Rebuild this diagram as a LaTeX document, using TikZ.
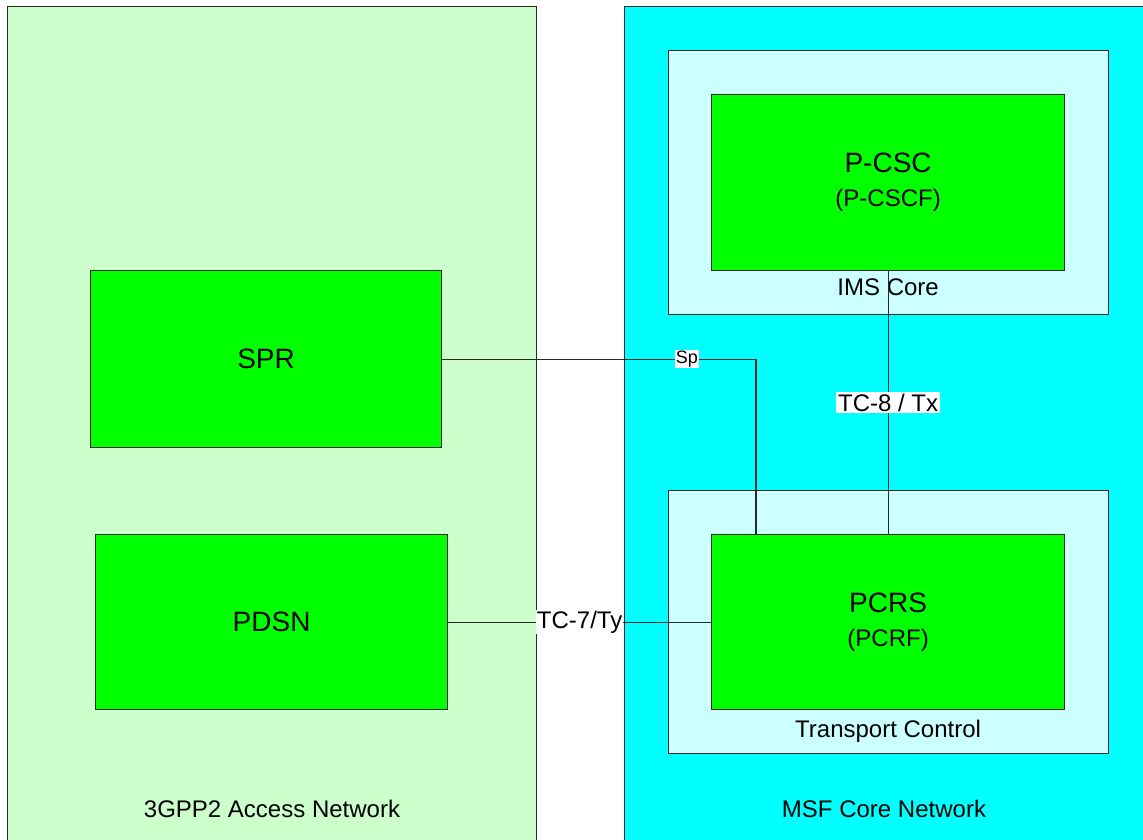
\documentclass[tikz,border=0pt]{standalone}
\usepackage{fontspec}
\setmainfont{Liberation Sans}
\usetikzlibrary{positioning}
\definecolor{accessgreen}{RGB}{204, 255, 204}
\definecolor{corecyan}{RGB}{0, 255, 255}
\definecolor{palecyan}{RGB}{204, 255, 255}
\definecolor{fngreen}{RGB}{0, 255, 0}
\definecolor{linegray}{RGB}{40, 40, 40}

\begin{document}
\begin{tikzpicture}[x = 0.5pt, y = -0.5pt, line width = 0.6pt,
region/.style = {draw = linegray, inner sep = 0pt, anchor = north west, minimum height = 419.5pt},
holder/.style = {draw = linegray, fill = palecyan, inner sep = 0pt, anchor = north west, minimum width = 220pt},
fnbox/.style = {draw = linegray, fill = fngreen, inner sep = 0pt, anchor = north west, align = center, font = \fontsize{14pt}{16pt}\selectfont},
caption/.style = {inner sep = 0pt, font = \fontsize{12pt}{14pt}\selectfont},
wire/.style = {draw = linegray},
iflabel/.style = {fill = white, inner sep = 1pt, font = \fontsize{12pt}{14pt}\selectfont}]
\useasboundingbox (0,0) rectangle (1143,839);
\node[region, fill = accessgreen, minimum width = 264.5pt] (access) at (7,6) {};
\node[region, fill = corecyan, minimum width = 263pt] (core) at (624,6) {};
\node[caption] (accesscap) at (272,809) {3GPP2 Access Network};
\node[caption] (corecap) at (884,809) {MSF Core Network};
\node[holder, minimum height = 132pt] (ims) at (668,50) {};
\node[holder, minimum height = 131.5pt] (tc) at (668,490) {};
\node[fnbox, minimum width = 176.5pt, minimum height = 88pt] (pcsc) at (711,94)
{P-CSC\\[1pt]{\fontsize{12pt}{16pt}\selectfont (P-CSCF)}};
\node[fnbox, minimum width = 176.5pt, minimum height = 87.5pt] (pcrs) at (711,534)
{PCRS\\[1pt]{\fontsize{12pt}{16pt}\selectfont (PCRF)}};
\node[fnbox, minimum width = 175.5pt, minimum height = 88.5pt] (spr) at (90,270) {SPR};
\node[fnbox, minimum width = 176pt, minimum height = 87.5pt] (pdsn) at (95,534) {PDSN};
\node[caption, below = 3.5pt of pcsc] (imscap) {IMS Core};
\node[caption, below = 4.5pt of pcrs] (tccap) {Transport Control};
\coordinate (spbend) at (spr.east -| 756,0);
\draw[wire] (spr.east) -- node[iflabel, pos = 0.78, inner sep = 0.5pt, font = \fontsize{9pt}{11pt}\selectfont] (splabel) {Sp} (spbend) -- (spbend |- pcrs.north);
\draw[wire] (pcsc.south) -- node[iflabel] (txlabel) {TC-8 / Tx} (pcrs.north);
\draw[wire] (pdsn.east) -- node[iflabel, inner sep = 0.5pt] (tylabel) {TC-7/Ty} (pcrs.west);
\end{tikzpicture}
\end{document}
